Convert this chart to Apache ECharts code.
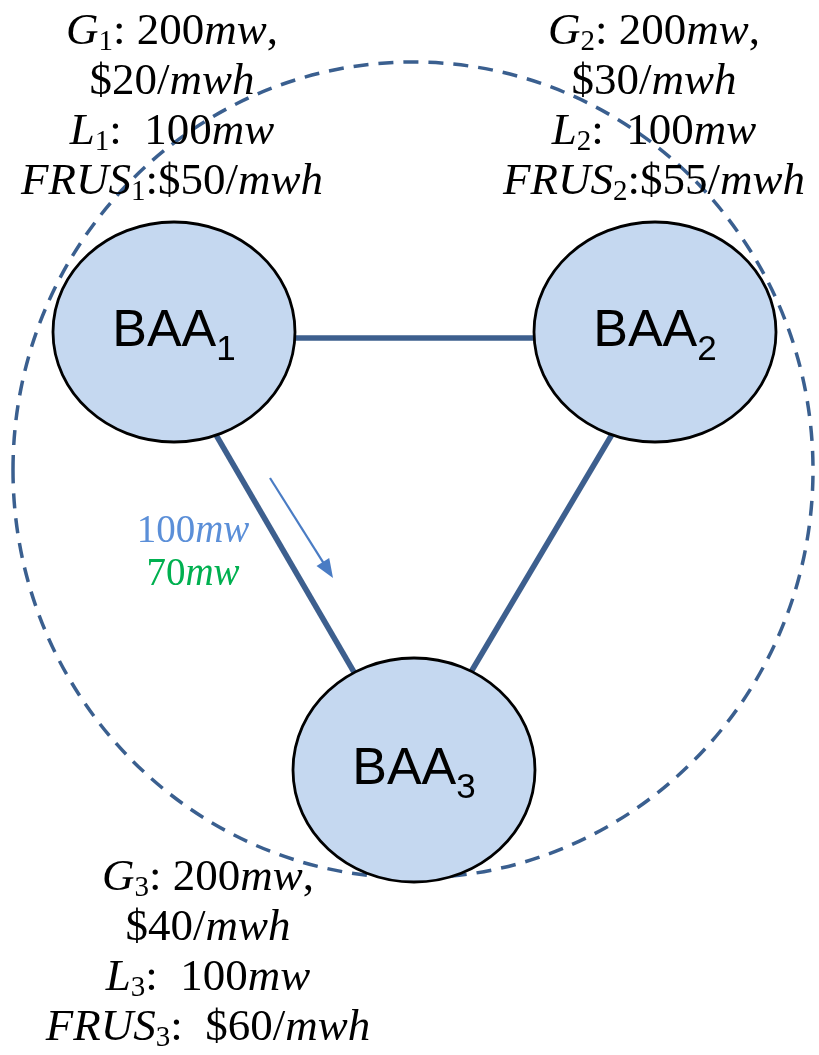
<!DOCTYPE html>
<html><head><meta charset="utf-8">
<script src="https://cdn.jsdelivr.net/npm/echarts@6/dist/echarts.min.js"></script>
<style>html,body{margin:0;padding:0;background:#fff}#c{width:819px;height:1055px}</style>
</head><body><div id="c"></div>
<script>
// ---- diagram data (coordinates in a 819 x 1055 value space) ----
const nodeNames = ['BAA', 'BAA', 'BAA'];
const nodeIndex = ['1', '2', '3'];
const nodeX = [174, 655, 414];
const nodeY = [332, 332, 770];
const nodeRx = [121, 121, 121];
const nodeRy = [110, 110, 112];

const genMW = [200, 200, 200];
const genPrice = [20, 30, 40];
const loadMW = [100, 100, 100];
const frusPrice = [50, 55, 60];
const frusSep = ['', '', '  '];
const infoX = [172, 654, 208];
const infoY = [7, 7, 853];

const edgeX1 = [285, 212, 617];
const edgeY1 = [338, 428, 426];
const edgeX2 = [545, 358, 468];
const edgeY2 = [338, 679, 677];

const boundary = [[413, 470, 400, 408]];

const flowValues = [100, 70];
const flowLabelX = [193];
const flowLabelY = [510];
const flowArrow = [[270, 478, 333, 578]];

// ---- styles ----
const serif = 'Liberation Serif';
const infoRich = {
  it: { fontFamily: serif, fontStyle: 'italic', fontSize: 45, lineHeight: 50, fill: '#000' },
  n: { fontFamily: serif, fontSize: 45, lineHeight: 50, fill: '#000' },
  s: { fontFamily: serif, fontSize: 29, lineHeight: 31, verticalAlign: 'bottom', fill: '#000' }
};
const nodeRich = {
  m: { fontFamily: 'Liberation Sans', fontSize: 52, lineHeight: 60, fill: '#000' },
  s: { fontFamily: 'Liberation Sans', fontSize: 35, lineHeight: 20, verticalAlign: 'top',
       padding: [31, 0, 0, 0], fill: '#000' }
};
const flowRich = {
  b: { fontFamily: serif, fontSize: 39, lineHeight: 43, fill: '#5b8fd8' },
  bi: { fontFamily: serif, fontStyle: 'italic', fontSize: 39, lineHeight: 43, fill: '#5b8fd8' },
  g: { fontFamily: serif, fontSize: 39, lineHeight: 43, fill: '#00b050' },
  gi: { fontFamily: serif, fontStyle: 'italic', fontSize: 39, lineHeight: 43, fill: '#00b050' }
};

const nodeData = nodeX.map((x, i) => [x, nodeY[i], nodeRx[i], nodeRy[i]]);
const edgeData = edgeX1.map((x, i) => [x, edgeY1[i], edgeX2[i], edgeY2[i]]);
const infoData = infoX.map((x, i) => [x, infoY[i]]);

function infoText(i) {
  const k = nodeIndex[i];
  return [
    `{it|G}{s|${k}}{n|: ${genMW[i]}}{it|mw}{n|,}`,
    `{n|$${genPrice[i]}/}{it|mwh}`,
    `{it|L}{s|${k}}{n|:  ${loadMW[i]}}{it|mw}`,
    `{it|FRUS}{s|${k}}{n|:${frusSep[i]}$${frusPrice[i]}/}{it|mwh}`
  ].join('\n');
}

const chart = echarts.init(document.getElementById('c'), null, { renderer: 'canvas' });
chart.setOption({
  backgroundColor: '#ffffff',
  animation: false,
  grid: { left: 0, right: 0, top: 0, bottom: 0 },
  xAxis: { type: 'value', min: 0, max: 819, show: false },
  yAxis: { type: 'value', min: 0, max: 1055, inverse: true, show: false },
  series: [
    {
      type: 'custom', clip: false, z: 1, data: boundary,
      renderItem(params, api) {
        const c = api.coord([api.value(0), api.value(1)]);
        const s = api.size([api.value(2), api.value(3)]);
        return {
          type: 'ellipse',
          shape: { cx: c[0], cy: c[1], rx: Math.abs(s[0]), ry: Math.abs(s[1]) },
          style: { fill: 'none', stroke: '#3a5f8f', lineWidth: 3.5, lineDash: [15, 10] }
        };
      }
    },
    {
      type: 'custom', clip: false, z: 2, data: edgeData,
      renderItem(params, api) {
        const a = api.coord([api.value(0), api.value(1)]);
        const b = api.coord([api.value(2), api.value(3)]);
        return {
          type: 'line',
          shape: { x1: a[0], y1: a[1], x2: b[0], y2: b[1] },
          style: { stroke: '#3d5f8e', lineWidth: 5.5 }
        };
      }
    },
    {
      type: 'custom', clip: false, z: 3, data: nodeData,
      renderItem(params, api) {
        const i = params.dataIndex;
        const c = api.coord([api.value(0), api.value(1)]);
        const s = api.size([api.value(2), api.value(3)]);
        return {
          type: 'group',
          children: [
            {
              type: 'ellipse',
              shape: { cx: c[0], cy: c[1], rx: Math.abs(s[0]), ry: Math.abs(s[1]) },
              style: { fill: '#c5d8f0', stroke: '#000', lineWidth: 2.8 }
            },
            {
              type: 'text', x: c[0], y: c[1],
              style: {
                text: `{m|${nodeNames[i]}}{s|${nodeIndex[i]}}`,
                rich: nodeRich, align: 'center', verticalAlign: 'middle'
              }
            }
          ]
        };
      }
    },
    {
      type: 'custom', clip: false, z: 4, data: infoData,
      renderItem(params, api) {
        const i = params.dataIndex;
        const c = api.coord([api.value(0), api.value(1)]);
        return {
          type: 'text', x: c[0], y: c[1],
          style: { text: infoText(i), rich: infoRich, align: 'center', verticalAlign: 'top' }
        };
      }
    },
    {
      type: 'custom', clip: false, z: 4, data: flowArrow,
      renderItem(params, api) {
        const a = api.coord([api.value(0), api.value(1)]);
        const b = api.coord([api.value(2), api.value(3)]);
        const dx = b[0] - a[0], dy = b[1] - a[1];
        const len = Math.sqrt(dx * dx + dy * dy);
        const ux = dx / len, uy = dy / len;
        const hl = 19, hw = 7.5;
        const bx = b[0] - ux * hl, by = b[1] - uy * hl;
        return {
          type: 'group',
          children: [
            { type: 'line', shape: { x1: a[0], y1: a[1], x2: bx + ux * 2, y2: by + uy * 2 },
              style: { stroke: '#4a7cc4', lineWidth: 2.2 } },
            { type: 'polygon',
              shape: { points: [[b[0], b[1]], [bx - uy * hw, by + ux * hw], [bx + uy * hw, by - ux * hw]] },
              style: { fill: '#4a7cc4' } }
          ]
        };
      }
    },
    {
      type: 'custom', clip: false, z: 4, data: [[flowLabelX[0], flowLabelY[0]]],
      renderItem(params, api) {
        const c = api.coord([api.value(0), api.value(1)]);
        return {
          type: 'text', x: c[0], y: c[1],
          style: {
            text: `{b|${flowValues[0]}}{bi|mw}\n{g|${flowValues[1]}}{gi|mw}`,
            rich: flowRich, align: 'center', verticalAlign: 'top'
          }
        };
      }
    }
  ]
});
</script>
</body></html>
